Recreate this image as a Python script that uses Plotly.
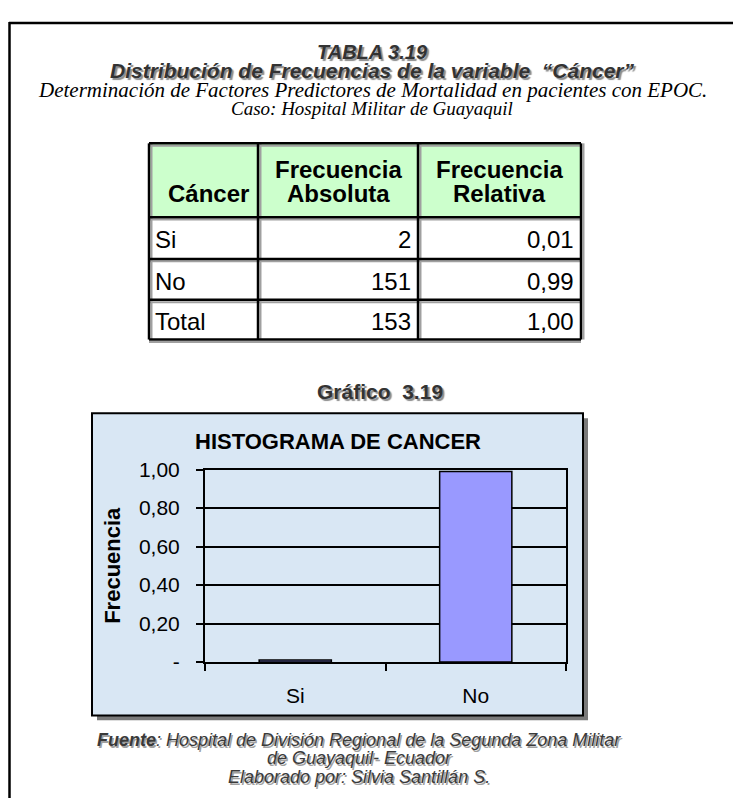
import plotly.graph_objects as go

W, H = 741, 807
OFF = 8  # margen del body de la pagina html
FW, FH = W - OFF, H - OFF

# datos de la tabla 3.19
categorias = ["Si", "No", "Total"]
frec_abs = [2, 151, 153]
frec_rel = [0.01, 0.99, 1.00]
encabezados = [["", "Cáncer"], ["Frecuencia", "Absoluta"], ["Frecuencia", "Relativa"]]

# eje y del histograma
y_ticks = [0, 0.2, 0.4, 0.6, 0.8, 1.0]
y_ticktext = ["-", "0,20", "0,40", "0,60", "0,80", "1,00"]

titulo = "TABLA 3.19"
subtitulo = "Distribución de Frecuencias de la variable  “Cáncer”"
linea1 = "Determinación de Factores Predictores de Mortalidad en pacientes con EPOC."
linea2 = "Caso: Hospital Militar de Guayaquil"
grafico = "Gráfico  3.19"
titulo_hist = "HISTOGRAMA DE CANCER"
fuente = ["<b>Fuente</b>: Hospital de División Regional de la Segunda Zona Militar",
          "de Guayaquil- Ecuador",
          "Elaborado por: Silvia Santillán S."]

SANS = "Arial, Liberation Sans"
SERIF = "Times New Roman, Liberation Serif"


def fx(x):
    return (x - OFF) / FW


def fy(y):
    return 1 - (y - OFF) / FH


def fmt(v):
    return f"{v:.2f}".replace(".", ",")


shapes = []
annotations = []


def line(x0, y0, x1, y1, color="black", width=2):
    shapes.append(dict(type="line", xref="paper", yref="paper",
                       x0=fx(x0), y0=fy(y0), x1=fx(x1), y1=fy(y1),
                       line=dict(color=color, width=width)))


def rect(x0, y0, x1, y1, fill, color="black", width=0, layer="below"):
    shapes.append(dict(type="rect", xref="paper", yref="paper", layer=layer,
                       x0=fx(x0), y0=fy(y0), x1=fx(x1), y1=fy(y1),
                       fillcolor=fill, line=dict(color=color, width=width)))


def text(x, y, s, size, family=SANS, color="black", xanchor="center",
         yanchor="middle", angle=0, shadow="none"):
    annotations.append(dict(xref="paper", yref="paper", x=fx(x), y=fy(y),
                            text=s, showarrow=False, xanchor=xanchor,
                            yanchor=yanchor, textangle=angle, align="center",
                            font=dict(family=family, size=size, color=color,
                                      shadow=shadow)))


SOMBRA = "2px 2px 1px #8c8c8c"

# marco de la pagina
line(9, 11, W + 2, 11, width=2.5)
line(9.5, 10, 9.5, H + 2, width=2.5)

# titulos
text(372, 41, f"<b><i>{titulo}</i></b>", 20, color="#333", shadow=SOMBRA)
text(372, 60, f"<b><i>{subtitulo}</i></b>", 21, color="#333", shadow=SOMBRA)
text(372, 80, f"<i>{linea1}</i>", 21, family=SERIF)
text(372, 99, f"<i>{linea2}</i>", 19, family=SERIF)

# tabla
cols = [149, 258, 418, 581]
rows = [135, 211, 254, 296, 337]
rect(cols[0], rows[0], cols[3], rows[1], "#ccffcc")
for xc in cols:
    line(xc + 2.5, rows[0], xc + 2.5, rows[-1], color="#a0a0a0", width=2)
for yr in rows:
    line(cols[0], yr + 2.5, cols[-1], yr + 2.5, color="#a0a0a0", width=2)
for xc in cols:
    line(xc, rows[0], xc, rows[-1], width=2.5)
for yr in rows:
    line(cols[0], yr, cols[-1], yr, width=2.5)

for j in range(3):
    xc = (cols[j] + cols[j + 1]) / 2 + (5 if j == 0 else 0)
    for k, s in enumerate(encabezados[j]):
        if s:
            text(xc, 162 + 25 * k, f"<b>{s}</b>", 24)
for i, cat in enumerate(categorias):
    yc = (rows[i + 1] + rows[i + 2]) / 2 + 2
    text(cols[0] + 4, yc, cat, 24, xanchor="left")
    text(cols[2] - 5, yc, str(frec_abs[i]), 24, xanchor="right")
    text(cols[3] - 5, yc, fmt(frec_rel[i]), 24, xanchor="right")

# grafico
text(380, 390, f"<b>{grafico}</b>", 21, color="#333", shadow=SOMBRA)
rect(97, 418, 588, 729, "#7a7a7a")
rect(92, 413, 583, 724, "#d9e7f4", width=2)
text(338, 442, f"<b>{titulo_hist}</b>", 22)
text(113, 570, "<b>Frecuencia</b>", 22, angle=-90)

# pie
for k, s in enumerate(fuente):
    text(359, 749 + 19 * k, f"<i>{s}</i>", 18, color="#3a3a3a",
         shadow="1.5px 1.5px 0px #a0a0a0")

fig = go.Figure(go.Bar(
    x=categorias[:2], y=frec_rel[:2], width=0.4,
    marker=dict(color="#9999ff", line=dict(color="black", width=1.5)),
))

fig.update_layout(
    width=FW, height=FH, autosize=False,
    margin=dict(l=0, r=0, t=0, b=0),
    paper_bgcolor="white", plot_bgcolor="rgba(0,0,0,0)",
    showlegend=False,
    shapes=shapes, annotations=annotations,
    xaxis=dict(domain=[fx(205), fx(566)], type="category",
               showline=True, linecolor="black", linewidth=2, mirror=True,
               ticks="outside", tickson="boundaries", ticklen=7,
               tickcolor="black", tickwidth=2, showgrid=False,
               ticklabelstandoff=14,
               tickfont=dict(family=SANS, size=21, color="black")),
    yaxis=dict(domain=[fy(669), fy(471)], range=[0, 1],
               tickvals=y_ticks, ticktext=y_ticktext,
               showline=True, linecolor="black", linewidth=2, mirror=True,
               ticks="outside", ticklen=7, tickcolor="black", tickwidth=2,
               showgrid=True, gridcolor="black", gridwidth=1.5, zeroline=False,
               ticklabelstandoff=12,
               tickfont=dict(family=SANS, size=21, color="black")),
)

fig.write_html("out.html")
